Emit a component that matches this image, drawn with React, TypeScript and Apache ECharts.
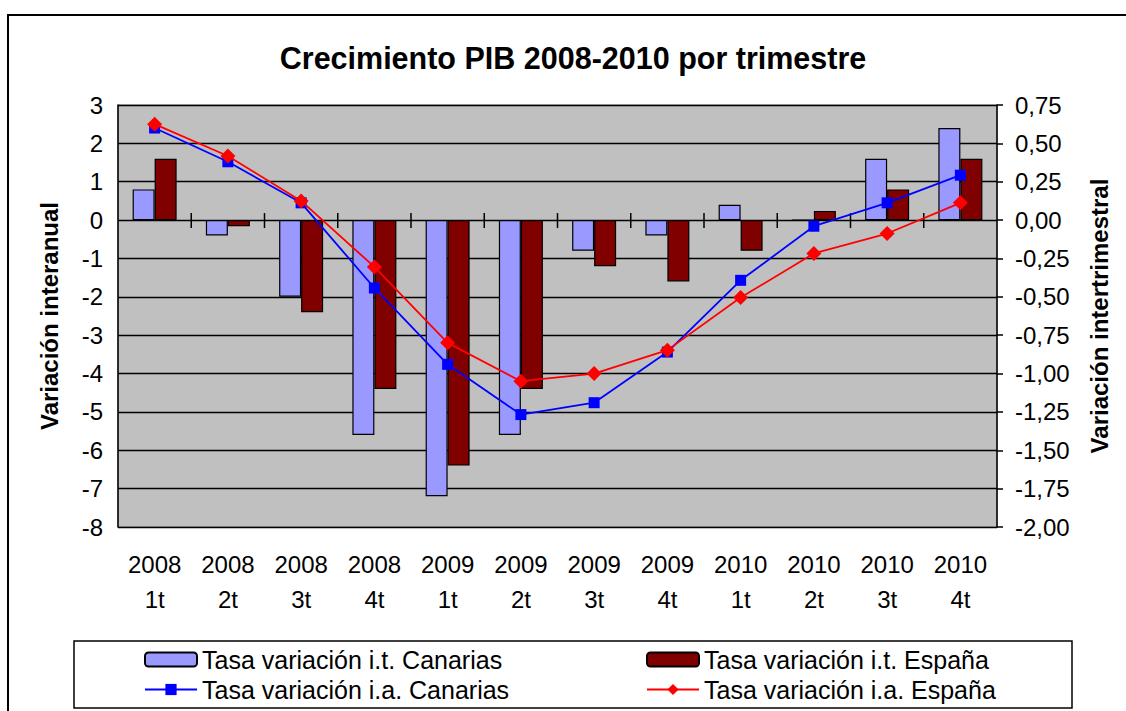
import React, { useEffect, useRef } from "react";
import * as echarts from "echarts";

const categories = [
  "2008\n1t", "2008\n2t", "2008\n3t", "2008\n4t",
  "2009\n1t", "2009\n2t", "2009\n3t", "2009\n4t",
  "2010\n1t", "2010\n2t", "2010\n3t", "2010\n4t",
];
const canariasIT = [0.2, -0.1, -0.5, -1.4, -1.8, -1.4, -0.2, -0.1, 0.1, 0, 0.4, 0.6];
const espanaIT = [0.4, -0.04, -0.6, -1.1, -1.6, -1.1, -0.3, -0.4, -0.2, 0.06, 0.2, 0.4];
const canariasIA = [2.4, 1.52, 0.45, -1.77, -3.76, -5.07, -4.76, -3.44, -1.57, -0.16, 0.45, 1.17];
const espanaIA = [2.5, 1.67, 0.5, -1.22, -3.2, -4.2, -4.0, -3.39, -2.02, -0.87, -0.35, 0.45];

const nameCanIT = "Tasa variación i.t. Canarias";
const nameEspIT = "Tasa variación i.t. España";
const nameCanIA = "Tasa variación i.a. Canarias";
const nameEspIA = "Tasa variación i.a. España";

const FONT = "'Liberation Sans', Arial, sans-serif";

export default function App() {
  const ref = useRef<HTMLDivElement>(null);
  useEffect(() => {
    if (!ref.current) return;
    const chart = echarts.init(ref.current, null, { renderer: "svg" });
    const legendText = { fontFamily: FONT, fontSize: 25, color: "#000", lineHeight: 25 };
    const tickStyle = { color: "#000", width: 1.5 };
    // one crossing tick on the zero line before each category except the first
    const tickData = categories.slice(1).map((_, i) => [i + 1, 0]);
    chart.setOption({
      animation: false,
      backgroundColor: "#fff",
      textStyle: { fontFamily: FONT },
      title: {
        text: "Crecimiento PIB 2008-2010 por trimestre",
        left: 573,
        textAlign: "center",
        top: 42,
        padding: 0,
        textStyle: { fontFamily: FONT, fontSize: 30.5, fontWeight: "bold", color: "#000" },
      },
      grid: {
        left: 118,
        right: 129,
        top: 105,
        bottom: 184,
        containLabel: false,
        outerBoundsMode: "none",
        show: true,
        backgroundColor: "#C0C0C0",
        borderColor: "#808080",
        borderWidth: 1,
      },
      legend: [
        {
          orient: "vertical",
          left: 144,
          top: 647,
          padding: 0,
          itemWidth: 52,
          itemHeight: 14,
          itemGap: 5,
          data: [nameCanIT, nameCanIA],
          textStyle: legendText,
        },
        {
          orient: "vertical",
          left: 646,
          top: 647,
          padding: 0,
          itemWidth: 52,
          itemHeight: 14,
          itemGap: 5,
          data: [nameEspIT, nameEspIA],
          textStyle: legendText,
        },
      ],
      graphic: [
        {
          type: "rect",
          shape: { x: 8, y: 15, width: 1300, height: 900 },
          style: { fill: "none", stroke: "#000", lineWidth: 2 },
          silent: true,
        },
        {
          type: "rect",
          shape: { x: 74, y: 641, width: 998, height: 67 },
          style: { fill: "#fff", stroke: "#000", lineWidth: 1.5 },
          silent: true,
          z: -1,
        },
      ],
      xAxis: {
        type: "category",
        data: categories,
        position: "bottom",
        axisLine: { show: false, onZero: false },
        axisTick: { show: false },
        axisLabel: {
          margin: 20,
          fontFamily: FONT,
          fontSize: 24,
          color: "#000",
          lineHeight: 35,
          interval: 0,
        },
        splitLine: { show: false },
      },
      yAxis: [
        {
          type: "value",
          min: -8,
          max: 3,
          interval: 1,
          position: "left",
          name: "Variación interanual",
          nameLocation: "middle",
          nameGap: 57,
          nameTextStyle: { fontFamily: FONT, fontSize: 24, fontWeight: "bold", color: "#000" },
          axisLine: { show: true, lineStyle: tickStyle },
          axisTick: { show: false },
          axisLabel: { margin: 15, fontFamily: FONT, fontSize: 24, color: "#000" },
          splitLine: { show: true, lineStyle: { color: "#000", width: 1.3 } },
        },
        {
          type: "value",
          min: -2,
          max: 0.75,
          interval: 0.25,
          position: "right",
          name: "Variación intertrimestral",
          nameLocation: "middle",
          nameGap: 90,
          nameRotate: 90,
          nameTextStyle: { fontFamily: FONT, fontSize: 24, fontWeight: "bold", color: "#000" },
          axisLine: { show: true, lineStyle: tickStyle },
          axisTick: { show: true, length: 6, lineStyle: tickStyle },
          axisLabel: {
            margin: 18,
            fontFamily: FONT,
            fontSize: 24,
            color: "#000",
            formatter: (v: number) => v.toFixed(2).replace(".", ","),
          },
          splitLine: { show: false },
        },
      ],
      series: [
        {
          name: nameCanIT,
          type: "bar",
          yAxisIndex: 1,
          data: canariasIT,
          barWidth: 22,
          barGap: "0%",
          itemStyle: { color: "#9999FF", borderColor: "#000", borderWidth: 1.2 },
          z: 3,
        },
        {
          name: nameEspIT,
          type: "bar",
          yAxisIndex: 1,
          data: espanaIT,
          barWidth: 22,
          barGap: "0%",
          itemStyle: { color: "#800000", borderColor: "#000", borderWidth: 1.2 },
          z: 3,
        },
        {
          name: nameCanIA,
          type: "line",
          yAxisIndex: 0,
          data: canariasIA,
          symbol: "rect",
          symbolSize: 11,
          lineStyle: { color: "#0000FF", width: 1.8 },
          itemStyle: { color: "#0000FF" },
          z: 6,
        },
        {
          name: nameEspIA,
          type: "line",
          yAxisIndex: 0,
          data: espanaIA,
          symbol: "diamond",
          symbolSize: 15,
          lineStyle: { color: "#FF0000", width: 1.8 },
          itemStyle: { color: "#FF0000" },
          z: 7,
        },
        {
          name: "zeroTicks",
          type: "custom",
          xAxisIndex: 0,
          yAxisIndex: 0,
          data: tickData,
          silent: true,
          clip: false,
          z: 5,
          renderItem: (params: any, api: any) => {
            const p = api.coord([api.value(0), api.value(1)]);
            const band = api.size([1, 0])[0];
            const x = p[0] - band / 2;
            return {
              type: "line",
              shape: { x1: x, y1: p[1] - 7, x2: x, y2: p[1] + 8 },
              style: { stroke: "#000", lineWidth: 1.5 },
            };
          },
        },
      ],
    });
    return () => chart.dispose();
  }, []);
  return (
    <div
      ref={ref}
      style={{ position: "fixed", left: 0, top: 0, width: 1126, height: 711 }}
    />
  );
}
